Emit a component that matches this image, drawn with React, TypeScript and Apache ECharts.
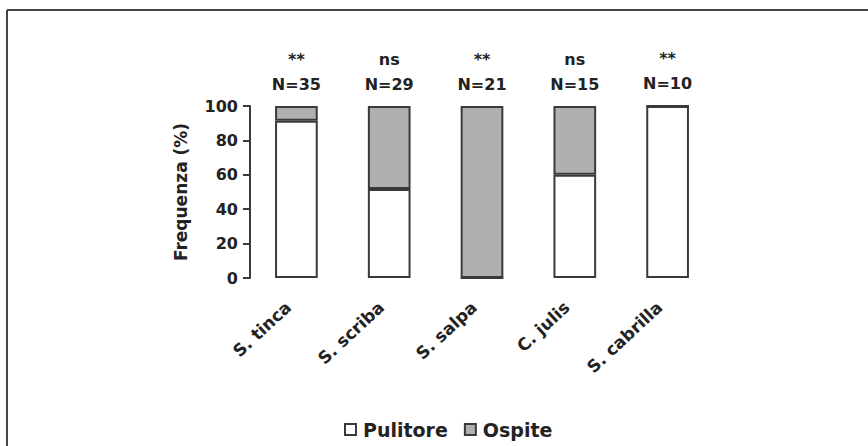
import React, { useEffect, useRef } from "react";
import * as echarts from "echarts";

const categories = ["S. tinca", "S. scriba", "S. salpa", "C. julis", "S. cabrilla"];
const pulitore = [91.4, 51.7, 0, 60, 100];
const ospite = [8.6, 48.3, 100, 40, 0];
const signif = ["**", "ns", "**", "ns", "**"];
const sampleN = ["N=35", "N=29", "N=21", "N=15", "N=10"];
const yTicks = [0, 20, 40, 60, 80, 100];

const FONT = "'DejaVu Sans', 'Liberation Sans', Arial, sans-serif";
const TXT = "#222222";
const EDGE = "#3a3a3a";

export default function App() {
  const ref = useRef<HTMLDivElement>(null);
  useEffect(() => {
    document.body.style.margin = "0";
    const chart = echarts.init(ref.current!, null, { renderer: "svg" });
    chart.setOption({
      animation: false,
      backgroundColor: "#ffffff",
      textStyle: { fontFamily: FONT },
      graphic: [
        { type: "line", shape: { x1: 7, y1: 10, x2: 868, y2: 10 }, style: { stroke: "#444", lineWidth: 2 } },
        { type: "line", shape: { x1: 7, y1: 10, x2: 7, y2: 446 }, style: { stroke: "#444", lineWidth: 2 } },
      ],
      legend: {
        top: 415,
        left: 339,
        itemGap: 16,
        itemWidth: 11,
        itemHeight: 11,
        icon: "rect",
        textStyle: { fontFamily: FONT, fontWeight: "bold", fontSize: 19, color: TXT, padding: [0, 0, 0, 2] },
        data: ["Pulitore", "Ospite"],
      },
      grid: { left: 250, right: 154, top: 106, bottom: 168 },
      xAxis: {
        type: "category",
        data: categories,
        axisLine: { show: false },
        axisTick: { show: false },
        axisLabel: {
          rotate: 43,
          margin: 19,
          interval: 0,
          fontFamily: FONT,
          fontWeight: "bold",
          fontSize: 17,
          color: TXT,
          padding: [0, 11, 0, 0],
        },
      },
      yAxis: {
        type: "value",
        min: 0,
        max: 100,
        interval: 20,
        name: "Frequenza (%)",
        nameLocation: "middle",
        nameGap: 61,
        nameTextStyle: { fontFamily: FONT, fontWeight: "bold", fontSize: 17, color: TXT },
        axisLine: { show: true, lineStyle: { color: EDGE, width: 2 } },
        axisTick: { show: true, length: 7, lineStyle: { color: EDGE, width: 2 } },
        splitLine: { show: false },
        axisLabel: {
          margin: 12,
          fontFamily: FONT,
          fontWeight: "bold",
          fontSize: 16,
          color: TXT,
          formatter: (v: number) => (yTicks.includes(v) ? String(v) : ""),
        },
      },
      series: [
        {
          name: "Pulitore",
          type: "bar",
          stack: "tot",
          barWidth: "46%",
          data: pulitore,
          itemStyle: { color: "#ffffff", borderColor: EDGE, borderWidth: 2 },
        },
        {
          name: "Ospite",
          type: "bar",
          stack: "tot",
          barWidth: "46%",
          data: ospite,
          itemStyle: { color: "#b0b0b0", borderColor: EDGE, borderWidth: 2 },
          label: {
            show: true,
            position: "top",
            distance: 12,
            fontFamily: FONT,
            fontWeight: "bold",
            color: TXT,
            formatter: (p: any) => `{s|${signif[p.dataIndex]}}\n{n|${sampleN[p.dataIndex]}}`,
            rich: {
              s: { fontFamily: FONT, fontWeight: "bold", fontSize: 16, lineHeight: 29, color: TXT, align: "center" },
              n: { fontFamily: FONT, fontWeight: "bold", fontSize: 16, lineHeight: 20, color: TXT, align: "center" },
            },
          },
        },
      ],
    });
    return () => chart.dispose();
  }, []);
  return <div ref={ref} style={{ width: 868, height: 446 }} />;
}
